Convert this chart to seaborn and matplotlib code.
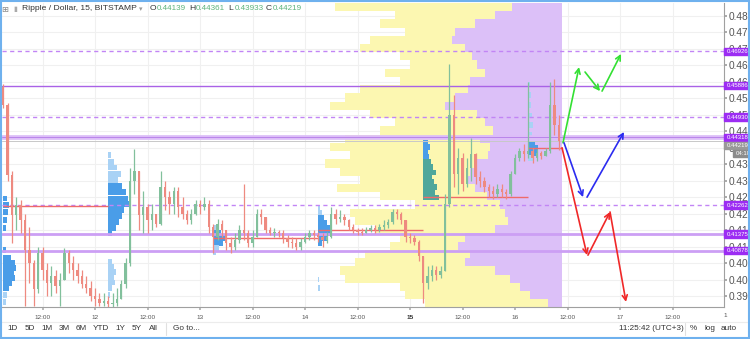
import numpy as np
import pandas as pd
import matplotlib
matplotlib.use("Agg")
import matplotlib.pyplot as plt
import matplotlib.transforms as mtransforms
from matplotlib.patches import Rectangle
from matplotlib.lines import Line2D
import seaborn as sns

# ---------------- data ----------------
# hourly candles, hours counted from 11 Jan 00:00 (UTC+3)
hours = list(range(3, 131))
first_open = 0.4585
close = [
    0.4530, 0.4317, 0.4196, 0.4226, 0.4180, 0.4090, 0.4050, 0.3970, 0.4080, 0.4030,   # 3-12
    0.3990, 0.4010, 0.3980, 0.4000, 0.4080, 0.4050, 0.4030, 0.4010, 0.3985, 0.3975,   # 13-22
    0.3950, 0.3940, 0.3930, 0.3935, 0.3925, 0.3930, 0.3940, 0.3985, 0.4050, 0.4300,   # 23-32
    0.4330, 0.4196, 0.4220, 0.4180, 0.4200, 0.4170, 0.4280, 0.4250, 0.4230, 0.4270,   # 33-42
    0.4220, 0.4200, 0.4180, 0.4200, 0.4230, 0.4220, 0.4230, 0.4160, 0.4130, 0.4170,   # 43-52
    0.4150, 0.4110, 0.4100, 0.4120, 0.4150, 0.4140, 0.4110, 0.4130, 0.4200, 0.4190,   # 53-62
    0.4150, 0.4140, 0.4145, 0.4140, 0.4125, 0.4115, 0.4110, 0.4100, 0.4115, 0.4130,   # 63-72
    0.4140, 0.4135, 0.4130, 0.4120, 0.4130, 0.4200, 0.4185, 0.4190, 0.4180, 0.4160,   # 73-82
    0.4150, 0.4145, 0.4140, 0.4150, 0.4155, 0.4150, 0.4160, 0.4165, 0.4175, 0.4205,   # 83-92
    0.4200, 0.4180, 0.4130, 0.4125, 0.4115, 0.4070, 0.3990, 0.4010, 0.4030, 0.4015,   # 93-102
    0.4025, 0.4230, 0.4500, 0.4320, 0.4370, 0.4290, 0.4340, 0.4380, 0.4310, 0.4300,   # 103-112
    0.4280, 0.4270, 0.4260, 0.4275, 0.4265, 0.4260, 0.4320, 0.4370, 0.4390, 0.4380,   # 113-122
    0.4390, 0.4370, 0.4385, 0.4375, 0.4390, 0.4530, 0.4470, 0.44219,                  # 123-130
]
high = [
    0.4595, 0.4535, 0.4330, 0.4250, 0.4240, 0.4200, 0.4160, 0.4060, 0.4100, 0.4100,
    0.4050, 0.4040, 0.4030, 0.4020, 0.4095, 0.4090, 0.4070, 0.4050, 0.4030, 0.4010,
    0.3995, 0.3975, 0.3960, 0.3960, 0.3950, 0.3960, 0.3975, 0.4000, 0.4065, 0.4340,
    0.4395, 0.4330, 0.4270, 0.4230, 0.4230, 0.4200, 0.4330, 0.4300, 0.4270, 0.4280,
    0.4280, 0.4250, 0.4210, 0.4215, 0.4240, 0.4240, 0.4250, 0.4240, 0.4170, 0.4185,
    0.4180, 0.4150, 0.4130, 0.4140, 0.4165, 0.4290, 0.4150, 0.4150, 0.4215, 0.4215,
    0.4190, 0.4160, 0.4155, 0.4150, 0.4150, 0.4135, 0.4130, 0.4125, 0.4125, 0.4140,
    0.4150, 0.4150, 0.4145, 0.4140, 0.4145, 0.4220, 0.4215, 0.4210, 0.4200, 0.4185,
    0.4170, 0.4155, 0.4155, 0.4160, 0.4165, 0.4165, 0.4170, 0.4180, 0.4185, 0.4215,
    0.4215, 0.4205, 0.4180, 0.4140, 0.4135, 0.4120, 0.4070, 0.4040, 0.4045, 0.4040,
    0.4040, 0.4260, 0.4655, 0.4560, 0.4400, 0.4385, 0.4370, 0.4430, 0.4385, 0.4330,
    0.4310, 0.4290, 0.4285, 0.4290, 0.4290, 0.4275, 0.4330, 0.4380, 0.4400, 0.4410,
    0.4600, 0.4400, 0.4395, 0.4390, 0.4400, 0.4600, 0.4610, 0.4500,
]
low = [
    0.4520, 0.4300, 0.4110, 0.4150, 0.4140, 0.3920, 0.3990, 0.3920, 0.3960, 0.4000,
    0.3950, 0.3950, 0.3960, 0.3920, 0.4000, 0.4020, 0.4000, 0.3990, 0.3975, 0.3960,
    0.3935, 0.3920, 0.3920, 0.3920, 0.3915, 0.3915, 0.3920, 0.3940, 0.3975, 0.4040,
    0.4260, 0.4150, 0.4140, 0.4140, 0.4150, 0.4160, 0.4165, 0.4210, 0.4200, 0.4200,
    0.4190, 0.4185, 0.4170, 0.4170, 0.4195, 0.4200, 0.4210, 0.4140, 0.4080, 0.4120,
    0.4130, 0.4090, 0.4080, 0.4090, 0.4110, 0.4120, 0.4100, 0.4100, 0.4130, 0.4170,
    0.4140, 0.4135, 0.4130, 0.4130, 0.4110, 0.4100, 0.4095, 0.4090, 0.4090, 0.4110,
    0.4120, 0.4120, 0.4115, 0.4100, 0.4110, 0.4125, 0.4170, 0.4175, 0.4165, 0.4150,
    0.4140, 0.4135, 0.4135, 0.4140, 0.4145, 0.4140, 0.4145, 0.4150, 0.4155, 0.4170,
    0.4185, 0.4170, 0.4115, 0.4110, 0.4105, 0.4055, 0.3930, 0.3970, 0.3995, 0.4000,
    0.4005, 0.4025, 0.4220, 0.4280, 0.4260, 0.4270, 0.4280, 0.4300, 0.4290, 0.4280,
    0.4265, 0.4250, 0.4245, 0.4250, 0.4250, 0.4245, 0.4255, 0.4320, 0.4360, 0.4360,
    0.4370, 0.4355, 0.4360, 0.4365, 0.4375, 0.4385, 0.4440, 0.4393,
]

# visible-range volume profile: bins of 0.0025 from 0.3915 upward
vp_bottom = 0.3915
vp_step = 0.0025
vp_total = [137, 157, 162, 217, 222, 207, 197, 172, 162, 187,
            207, 212, 147, 182, 225, 202, 222, 237, 212, 232,
            217, 182, 167, 192, 232, 217, 202, 162, 177, 152,
            162, 202, 192, 157, 182, 167, 227]
vp_part = [14, 32, 42, 52, 67, 97, 92, 104, 97, 67,
           54, 57, 62, 75, 87, 95, 92, 85, 74, 72,
           82, 69, 77, 85, 117, 107, 94, 92, 77, 85,
           90, 97, 110, 107, 87, 67, 50]
vp_end = 16.448   # right edge of the profile (last bar)

# session volume profiles
session_start = [11.125, 12.125, 13.125, 14.125, 15.125, 16.125]
session_prices = [
    [0.4247, 0.4226, 0.4205, 0.4181, 0.4156, 0.4090, 0.4065, 0.4050, 0.4035, 0.4020, 0.4005, 0.3989, 0.3974, 0.3953, 0.3932],
    [0.4378, 0.4357, 0.4339, 0.4320, 0.4302, 0.4284, 0.4266, 0.4247, 0.4229, 0.4211, 0.4193, 0.4175, 0.4156, 0.4141,
     0.4053, 0.4038, 0.4023, 0.4008, 0.3992, 0.3974, 0.3953],
    [0.4156, 0.4141, 0.4126, 0.4111, 0.4096, 0.4081],
    [0.4217, 0.4202, 0.4187, 0.4172, 0.4156, 0.4141, 0.4126, 0.4111, 0.3999, 0.3974],
    [0.4417, 0.4402, 0.4387, 0.4372, 0.4357, 0.4342, 0.4326, 0.4311, 0.4296, 0.4281, 0.4266, 0.4250],
    [0.4591, 0.4560, 0.4530, 0.4499, 0.4469, 0.4439, 0.4414, 0.4399, 0.4384, 0.4369],
]
session_vols = [
    [4, 6, 5, 4, 3, 3, 8, 12, 13, 11, 12, 9, 6, 4, 3],
    [3, 6, 9, 13, 10, 14, 18, 20, 21, 16, 14, 11, 8, 4, 4, 6, 8, 6, 7, 4, 2],
    [4, 8, 12, 10, 6, 3],
    [2, 4, 6, 9, 12, 14, 10, 4, 1, 2],
    [5, 7, 5, 6, 8, 10, 13, 9, 11, 14, 12, 16],
    [2, 3, 3, 4, 5, 4, 7, 10, 9, 6],
]
session_va = [(0.3960, 0.4255), (0.4140, 0.4290), (0.4100, 0.4150),
              (0.4110, 0.4200), (0.4230, 0.4420), (0.4380, 0.4420)]

poc_start = [11.125, 13.125, 14.125, 15.125, 16.125]
poc_end = [12.125, 14.125, 15.125, 16.125, 16.448]
poc_price = [0.4222, 0.4126, 0.4150, 0.4250, 0.4399]

levels_dashed = [0.46926, 0.44930, 0.42262]
levels_solid = [0.45886, 0.44318, 0.41375, 0.40878]
last_price = 0.44219
countdown = "04:18"

# projected scenarios (legs of arrows): (t0, p0, t1, p1)
green_legs = [(16.457, 0.4415, 16.610, 0.4645), (16.667, 0.4630, 16.810, 0.4572), (16.829, 0.4572, 17.010, 0.4685)]
blue_legs = [(16.467, 0.4415, 16.648, 0.4250), (16.686, 0.4250, 17.038, 0.4448)]
red_legs = [(16.448, 0.4400, 16.686, 0.4074), (16.695, 0.4074, 16.905, 0.4205), (16.905, 0.4205, 17.057, 0.3932)]

x_ticks = [11.5, 12, 12.5, 13, 13.5, 14, 14.5, 15, 15.5, 16, 16.5, 17, 17.5]
x_labels = ["12:00", "12", "12:00", "13", "12:00", "14", "12:00", "15", "12:00", "16", "12:00", "17", "12:00"]
y_ticks = [0.395, 0.400, 0.405, 0.410, 0.415, 0.420, 0.425, 0.430, 0.435, 0.440,
           0.445, 0.450, 0.455, 0.460, 0.465, 0.470, 0.475, 0.480]

legend_vals = [("O", "0.44139"), ("H", "0.44361"), ("L", "0.43933"), ("C", "0.44219")]
range_buttons = ["1D", "5D", "1M", "3M", "6M", "YTD", "1Y", "5Y", "All"]

# ---------------- figure ----------------
sns.set_theme(style="white")
plt.rcParams['font.family'] = ['Liberation Sans', 'DejaVu Sans']

W, H = 750, 339
fig = plt.figure(figsize=(W / 100, H / 100), dpi=100)
fx = lambda px: px / W
fy = lambda py: 1 - py / H

PX_PER_DAY = 105.0
PX_PER_PRICE = 3294.0
AX_L, AX_R = 2, 724
x0_day = 12 + (AX_L - 95) / PX_PER_DAY
x1_day = 12 + (AX_R - 95) / PX_PER_DAY
y_top = 0.480 + (16 - 3) / PX_PER_PRICE
y_bot = 0.480 - (307 - 16) / PX_PER_PRICE

ax = fig.add_axes([fx(AX_L), fy(307), fx(AX_R - AX_L), 304 / H])
ax.set_xlim(x0_day, x1_day)
ax.set_ylim(y_bot, y_top)
ax.set_facecolor("white")

# grid
for tv in np.arange(11.5, 18.0, 0.5):
    ax.axvline(tv, color="#f0f0f0", lw=0.8, zorder=0)
for yv in y_ticks:
    ax.axhline(yv, color="#f0f0f0", lw=0.8, zorder=0)

# big volume profile
centers = [vp_bottom + vp_step * (i + 0.5) for i in range(len(vp_total))]
tot_w = [v / PX_PER_DAY for v in vp_total]
part_w = [v / PX_PER_DAY for v in vp_part]
ax.barh(centers, tot_w, left=[vp_end - w for w in tot_w], height=vp_step,
        color="#fcf7b1", edgecolor="none", zorder=1)
ax.barh(centers, part_w, left=[vp_end - w for w in part_w], height=vp_step,
        color="#dcc0f8", edgecolor="none", zorder=1.1)

# session profiles
for k, (st, pr, vo) in enumerate(zip(session_start, session_prices, session_vols)):
    lo, hi = session_va[k]
    cols = []
    for p in pr:
        if lo <= p <= hi:
            if k == 4 and p < 0.4365:
                cols.append("#4fa79b")
            else:
                cols.append("#4a9de8")
        else:
            cols.append("#a9d2f5")
    ax.barh(pr, [v / PX_PER_DAY for v in vo], left=st, height=0.0016,
            color=cols, edgecolor="none", zorder=2)

# levels
for lv in levels_dashed:
    ax.axhline(lv, color="#c285f5", lw=1.0, dashes=(3, 2.5), zorder=3)
for lv in levels_solid:
    if lv == levels_solid[0]:
        ax.axhline(lv, color="#a962e6", lw=1.0, zorder=3)
    elif lv == levels_solid[1]:
        ax.axhline(lv, color="#dcbdf8", lw=3.4, zorder=3)
        ax.axhline(lv, color="#b985ea", lw=0.7, zorder=3)
    else:
        ax.axhline(lv, color="#cc9ff4", lw=2.0, zorder=3)
ax.axhline(last_price, color="#c8c8c8", lw=0.7, zorder=3)

# POC lines
for s, e, p in zip(poc_start, poc_end, poc_price):
    ax.hlines(p, s, e, color="#ef6a6a", lw=1.0, zorder=4)

# candles
t = np.array([11 + h / 24 for h in hours])
c = np.array(close)
o = np.array([first_open] + close[:-1])
hi_ = np.array(high)
lo_ = np.array(low)
up = c >= o
col = np.where(up, "#82c09c", "#ee8a80")
ax.vlines(t, lo_, hi_, colors=col, lw=0.9, zorder=5)
body_h = np.maximum(np.abs(c - o), 0.0003)
ax.bar(t, body_h, bottom=np.minimum(o, c), width=0.55 / 24, color=col,
       edgecolor="none", zorder=5)

# projections
for legs, colr in [(green_legs, "#33e033"), (blue_legs, "#2b2bf0"), (red_legs, "#f02828")]:
    for (ta, pa, tb, pb) in legs:
        ax.annotate("", xy=(tb, pb), xytext=(ta, pa),
                    arrowprops=dict(arrowstyle="->", color=colr, lw=1.2,
                                    shrinkA=0, shrinkB=0, mutation_scale=9),
                    zorder=6)

# axes styling
for sp in ["left", "top"]:
    ax.spines[sp].set_visible(False)
for sp in ["right", "bottom"]:
    ax.spines[sp].set_color("#a0a0a0")
    ax.spines[sp].set_linewidth(0.8)
ax.yaxis.tick_right()
ax.set_yticks(y_ticks)
ax.set_yticklabels([f"{v:.3f}" for v in y_ticks])
ax.tick_params(axis="y", right=True, length=2, color="#a0a0a0", labelsize=7.3,
               labelcolor="#555555", pad=1)
ax.set_xticks(x_ticks)
ax.set_xticklabels(x_labels)
ax.tick_params(axis="x", bottom=True, length=2.5, color="#b0b0b0", labelsize=4.6,
               labelcolor="#555555", pad=3)
for lab in ax.get_xticklabels():
    if lab.get_text() == "15":
        lab.set_fontweight("bold")
        lab.set_color("#333333")
ax.set_xlabel("")
ax.set_ylabel("")

# right-side price labels
blend = mtransforms.blended_transform_factory(fig.transFigure, ax.transData)
box_h = 7.5 / PX_PER_PRICE
for lv in levels_dashed + levels_solid:
    fig.patches.append(Rectangle((fx(724), lv - box_h / 2), fx(27), box_h,
                                 transform=blend, color="#9c2cf3", zorder=5))
    fig.text(fx(726.5), lv, f"{lv:.5f}", transform=blend, color="white",
             fontsize=4.3, va="center", ha="left", zorder=6)
for py, x_box, x_txt, txt, bg in [(145.5, 724, 726.5, f"{last_price:.5f}", "#999999"),
                                  (153.5, 733, 735.5, countdown, "#8c8c8c")]:
    fig.patches.append(Rectangle((fx(x_box), fy(py + 3.75)), fx(751 - x_box), 7.5 / H,
                                 transform=fig.transFigure, color=bg, zorder=5))
    fig.text(fx(x_txt), fy(py), txt, color="white", fontsize=4.3, va="center",
             ha="left", zorder=6)
fig.text(fx(725), fy(315.5), "1", fontsize=4.6, color="#555555", va="center", ha="center")

# top legend
fig.text(fx(5), fy(9), "⊞", fontsize=6, color="#888888", va="center", ha="center",
         family=["DejaVu Sans"])
fig.text(fx(15), fy(9), "▮", fontsize=5, color="#aaaaaa", va="center", ha="center",
         family=["DejaVu Sans"])
fig.text(fx(22), fy(9), "Ripple / Dollar, 15, BITSTAMP", fontsize=6.1, color="#333333",
         va="center", ha="left")
fig.text(fx(141), fy(9), "▾", fontsize=5, color="#999999", va="center", ha="center",
         family=["DejaVu Sans"])
lx = [150, 189, 228, 266]
for (k, v), xp in zip(legend_vals, lx):
    fig.text(fx(xp), fy(9), k, fontsize=6.1, color="#333333", va="center", ha="left")
    fig.text(fx(xp + 7), fy(9), v, fontsize=5.8, color="#5cb37a", va="center", ha="left")

# bottom toolbar
bx = [13, 30, 47, 64, 81, 101, 120, 137, 153]
for b, xp in zip(range_buttons, bx):
    fig.text(fx(xp), fy(329), b, fontsize=5.9, color="#333333", va="center", ha="center")
fig.text(fx(186), fy(329), "Go to...", fontsize=5.9, color="#333333", va="center", ha="center")
fig.text(fx(651), fy(329), "11:25:42 (UTC+3)", fontsize=5.9, color="#333333", va="center", ha="center")
fig.text(fx(693), fy(329), "%", fontsize=5.9, color="#333333", va="center", ha="center")
fig.text(fx(710), fy(329), "log", fontsize=5.9, color="#333333", va="center", ha="center")
fig.text(fx(729), fy(329), "auto", fontsize=5.9, color="#333333", va="center", ha="center")
for xp in [166, 685]:
    fig.add_artist(Line2D([fx(xp), fx(xp)], [fy(323), fy(335)], color="#e0e0e0", lw=0.8))
fig.add_artist(Line2D([0, 1], [fy(321.5), fy(321.5)], color="#ececec", lw=0.8))

# frame
fig.add_artist(Rectangle((0.001, 0.002), 0.998, 0.996, transform=fig.transFigure,
                         fill=False, edgecolor="#6fb1ee", lw=1.5, zorder=10))

fig.savefig("out.png", dpi=100)
